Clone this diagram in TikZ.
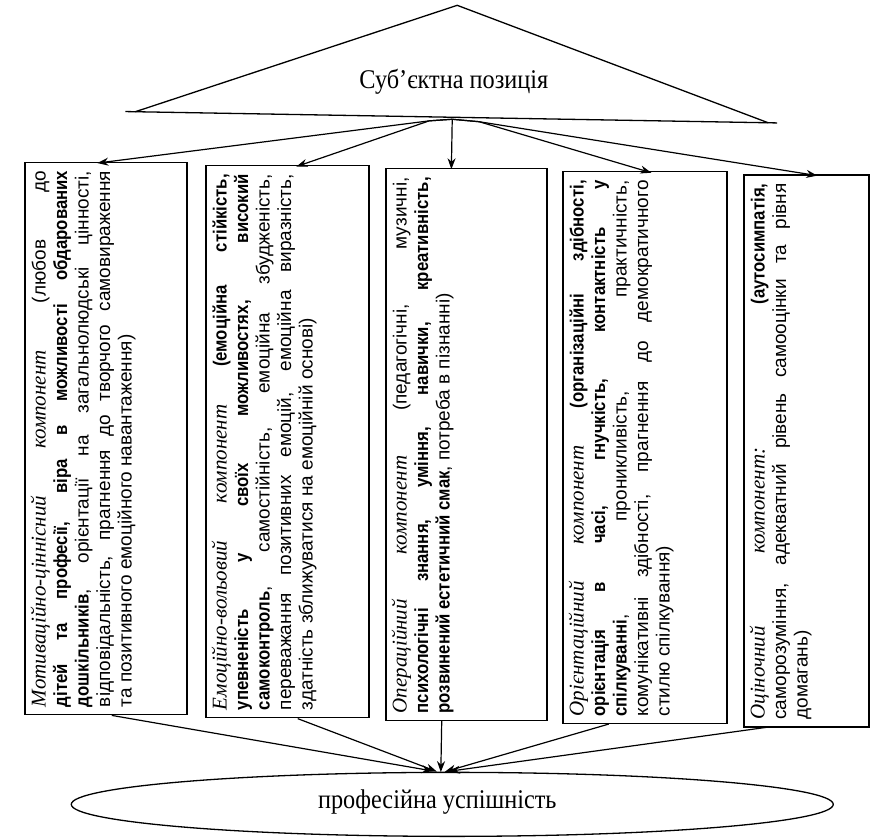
\documentclass[tikz,border=0pt]{standalone}
\usepackage{fontspec}
\setmainfont{Liberation Serif}
\newfontfamily\bodyfont[BoldFeatures={FakeStretch=0.88}]{Liberation Sans}
\newfontfamily\titlefont{Liberation Serif}
\newfontfamily\narrowserif[FakeStretch=0.9]{Liberation Serif}
\usetikzlibrary{arrows.meta,shapes.geometric,calc}
\newcommand\hd[1]{{\titlefont\itshape\fontsize{21}{21}\selectfont #1}}
\tikzset{
  line/.style={line width=1.3pt, line join=round},
  arr/.style={line width=1.2pt, line join=round, -{Stealth[length=11pt,width=8pt]}},
  compbox/.style={draw, line width=1.3pt, inner sep=0pt, anchor=north west},
  boxtext/.style={rotate=90, anchor=north west, inner sep=0pt, text width=536pt,
    align=justify, font=\bodyfont\fontsize{19}{21.5}\selectfont},
  bigtext/.style={font=\narrowserif\fontsize{27}{27}\selectfont},
}
\begin{document}
\begin{tikzpicture}[x=1pt,y=1pt]
\useasboundingbox (0,0) rectangle (871,-838);
\begin{scope}[rotate around={-1:(435,-419)}]
% triangle
\coordinate (A) at (450,-5);
\coordinate (L) at (130,-117);
\coordinate (R) at (763,-117);
\coordinate (BL) at (120,-117);
\coordinate (BR) at (772,-117);
\coordinate (P) at (447,-119);
\coordinate (hl) at (424,-121);
\coordinate (hr) at (474,-121);
\draw[line] (L) -- (A) -- (R);
\draw[line] (BL) -- (BR);
\node[bigtext] (subj) at (448,-81) {Суб’єктна позиція};
% boxes
\node[compbox, minimum width=162pt, minimum height=552pt] (b1) at (20,-169) {};
\node[compbox, minimum width=163pt, minimum height=552pt] (b2) at (201,-169) {};
\node[compbox, minimum width=161pt, minimum height=552pt] (b3) at (381,-169) {};
\node[compbox, minimum width=164pt, minimum height=552pt] (b4) at (558,-169) {};
\node[compbox, minimum width=125pt, minimum height=552pt] (b5) at (739,-169) {};
% texts
\node[boxtext] (x1) at ($(b1.south west)+(6,8)$) {\hyphenpenalty=10000
\hd{Мотиваційно-ціннісний компонент} (любов до\linebreak
\textbf{дітей та професії, віра в можливості обдарованих}\linebreak
\textbf{дошкільників}, орієнтації на загальнолюдські цінності,\linebreak
відповідальність, прагнення до творчого самовираження\linebreak
та позитивного емоційного навантаження)};
\node[boxtext] (x2) at ($(b2.south west)+(6,8)$) {\hyphenpenalty=10000
\hd{Емоційно-вольовий компонент} \textbf{(емоційна стійкість,}\linebreak
\textbf{упевненість у своїх можливостях, високий}\linebreak
\textbf{самоконтроль}, самостійність, емоційна збудженість,\linebreak
переважання позитивних емоцій, емоційна виразність,\linebreak
здатність зближуватися на емоційній основі)};
\node[boxtext] (x3) at ($(b3.south west)+(6,8)$) {\hyphenpenalty=10000
\hd{Операційний компонент} (педагогічні, музичні,\linebreak
\textbf{психологічні знання, уміння, навички, креативність,}\linebreak
\textbf{розвинений естетичний смак}, потреба в пізнанні)};
\node[boxtext] (x4) at ($(b4.south west)+(6,8)$) {\hyphenpenalty=10000
\hd{Орієнтаційний компонент} \textbf{(організаційні здібності,}\linebreak
\textbf{орієнтація в часі, гнучкість, контактність у}\linebreak
\textbf{спілкуванні}, проникливість, практичність,\linebreak
комунікативні здібності, прагнення до демократичного\linebreak
стилю спілкування)};
\node[boxtext] (x5) at ($(b5.south west)+(6,8)$) {\hyphenpenalty=10000
\hd{Оціночний компонент:} \textbf{(аутосимпатія,}\linebreak
саморозуміння, адекватний рівень самооцінки та рівня\linebreak
домагань)};
% ellipse
\node[draw, line width=1.3pt, ellipse, minimum width=762pt, minimum height=64pt] (el) at (459,-804) {};
\node[bigtext] (ellab) at (444,-802) {професійна успішність};
% top arrows
\coordinate (t1) at (93,-169);
\coordinate (t2) at (292,-169);
\coordinate (t3) at (447,-169);
\coordinate (t4) at (647,-169);
\coordinate (t5) at (813,-169);
\draw[arr] (P) -- (hl) -- (t1);
\draw[arr] (P) -- (hl) -- (t2);
\draw[arr] (P) -- (t3);
\draw[arr] (P) -- (hr) -- (t4);
\draw[arr] (P) -- (hr) -- (t5);
% bottom arrows
\coordinate (e0) at (447,-772);
\coordinate (s1) at (117,-721);
\coordinate (s2) at (303,-721);
\coordinate (s3) at (447,-721);
\coordinate (s4) at (614,-721);
\coordinate (s5) at (775,-721);
\draw[arr] (s1) -- ($(e0)+(-8,1)$);
\draw[arr] (s2) -- ($(e0)+(-4,0.5)$);
\draw[arr] (s3) -- (e0);
\draw[arr] (s4) -- ($(e0)+(4,0.5)$);
\draw[arr] (s5) -- ($(e0)+(8,1)$);
\end{scope}
\end{tikzpicture}
\end{document}
